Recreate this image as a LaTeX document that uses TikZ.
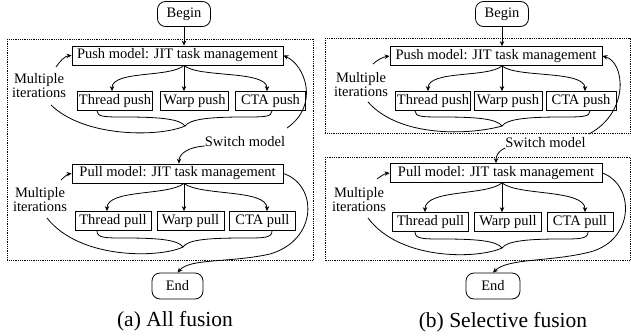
\documentclass[tikz,border=0pt]{standalone}
\usepackage{fontspec}
\setmainfont{Liberation Serif}
\usetikzlibrary{arrows.meta,calc}
\begin{document}
\begin{tikzpicture}[x=1pt,y=-1pt,
  every node/.style={font=\fontsize{14.5}{14}\selectfont},
  box/.style={draw,line width=0.8pt,minimum height=19pt,inner xsep=1.5pt,inner ysep=0pt},
  term/.style={draw,line width=0.8pt,rounded corners=8pt,inner sep=0pt},
  lbl/.style={align=center,inner sep=0pt},
  captext/.style={font=\fontsize{21.5}{24}\selectfont,inner sep=0pt},
  frame/.style={line width=0.7pt,dash pattern=on 0.7pt off 1.1pt},
  arr/.style={line width=0.8pt,-{Stealth[length=5pt,width=4.5pt]}},
  ln/.style={line width=0.8pt}]
\useasboundingbox (0,0) rectangle (631,335);

% ---------------- (a) All fusion ----------------
\draw[frame] (7,39) rectangle (313,260);
\node[term,minimum width=53pt,minimum height=25pt] (begin1) at (184,14) {Begin};
\node[box,minimum width=211pt] (push1) at (177.5,55.5) {Push model: JIT task management};
\node[box,minimum width=75pt] (tp1) at (115,101) {Thread push};
\node[box,minimum width=68pt] (wp1) at (194.5,101) {Warp push};
\node[box,minimum width=70pt] (cp1) at (270.5,101) {CTA push};
\node[lbl] (ml1) at (39,86) {Multiple\\iterations};
\node[lbl] (sw1) at (245,142) {Switch model};
\node[box,minimum width=211pt] (pull1) at (177.5,173.5) {Pull model: JIT task management};
\node[box,minimum width=76pt] (tl1) at (113,221) {Thread pull};
\node[box,minimum width=67pt] (wl1) at (190.5,221) {Warp pull};
\node[box,minimum width=66pt] (cl1) at (262.5,221) {CTA pull};
\node[lbl] (ml2) at (40,199.5) {Multiple\\iterations};
\node[term,minimum width=51pt,minimum height=26pt] (end1) at (177.5,286) {End};
\node[captext] (cap1) at (175,321) {(a) All fusion};

\coordinate (s1) at (begin1.south |- push1.south);
\coordinate (s2) at (begin1.south |- pull1.south);
\coordinate (bt1) at (185,126);
\coordinate (bt2) at (183,247);
\coordinate (ia1) at (56,67);
\coordinate (ia2) at (61,180);
\coordinate (le1) at (51,105);
\coordinate (le2) at (47,218);
\coordinate (rs1) at (287,128);

\draw[arr] (begin1.south) -- (begin1.south |- push1.north);
\draw[arr] (s1) .. controls (170,78) and (112,70) .. ([xshift=-3pt]tp1.north);
\draw[arr] (s1) -- (s1 |- wp1.north);
\draw[arr] (s1) .. controls (198,78) and (267,70) .. ([xshift=-3.5pt]cp1.north);
\draw[ln] ([xshift=-18pt]tp1.south) .. controls (97,117) and (105,117) .. (125,117) .. controls (160,117) and (180,119) .. (bt1);
\draw[ln] ([xshift=1.5pt]cp1.south) .. controls (272,117) and (264,117) .. (244,117) .. controls (210,117) and (190,119) .. (bt1);
\draw[ln] (bt1) .. controls (160,137) and (85,138) .. (le1);
\draw[arr] (ia1) .. controls (60,61) and (65,56) .. (push1.west);
\draw[arr] (rs1) .. controls (320,105) and (305,65) .. (push1.east);
\draw[arr] ([yshift=-4pt]sw1.west) .. controls (188,147) and (179,154) .. ([xshift=1.5pt]pull1.north);

\draw[arr] (s2) .. controls (168,196) and (107,189) .. ([xshift=-6pt]tl1.north);
\draw[arr] (s2) -- (s2 |- wl1.north);
\draw[arr] (s2) .. controls (200,196) and (267,189) .. ([xshift=4.5pt]cl1.north);
\draw[ln] ([xshift=-16pt]tl1.south) .. controls (97,238) and (105,238) .. (125,238) .. controls (160,238) and (178,240) .. (bt2);
\draw[ln] ([xshift=9.5pt]cl1.south) .. controls (272,238) and (264,238) .. (244,238) .. controls (205,238) and (188,240) .. (bt2);
\draw[ln] (bt2) .. controls (160,258) and (80,260) .. (le2);
\draw[arr] (ia2) .. controls (64,177) and (68,174) .. (pull1.west);
\draw[arr] (pull1.east) .. controls (318,185) and (318,240) .. (270,254) .. controls (230,263) and (190,258) .. (end1.north);

% ---------------- (b) Selective fusion ----------------
\draw[frame] (325,38) rectangle (630,133);
\draw[frame] (325,157) rectangle (630,260);
\node[term,minimum width=53pt,minimum height=25pt] (begin2) at (502,14) {Begin};
\node[box,minimum width=212pt] (push2) at (496,56) {Push model: JIT task management};
\node[box,minimum width=75pt] (tp2) at (433,101) {Thread push};
\node[box,minimum width=68pt] (wp2) at (508,101) {Warp push};
\node[box,minimum width=70pt] (cp2) at (581,101) {CTA push};
\node[lbl] (ml3) at (361,84.5) {Multiple\\iterations};
\node[lbl] (sw2) at (545.5,143) {Switch model};
\node[box,minimum width=212pt] (pull2) at (496,173) {Pull model: JIT task management};
\node[box,minimum width=76pt] (tl2) at (430.5,222) {Thread pull};
\node[box,minimum width=67pt] (wl2) at (508,222) {Warp pull};
\node[box,minimum width=66pt] (cl2) at (580,222) {CTA pull};
\node[lbl] (ml4) at (359,199.5) {Multiple\\iterations};
\node[term,minimum width=54pt,minimum height=26pt] (end2) at (493,286) {End};
\node[captext] (cap2) at (503,322) {(b) Selective fusion};

\coordinate (s3) at (begin2.south |- push2.south);
\coordinate (s4) at (begin2.south |- pull2.south);
\coordinate (bt3) at (502,126);
\coordinate (bt4) at (502,248);
\coordinate (ia3) at (373,64);
\coordinate (ia4) at (377,179);
\coordinate (le3) at (368,102);
\coordinate (le4) at (368,218);
\coordinate (rs3) at (589,134);

\draw[arr] (begin2.south) -- (begin2.south |- push2.north);
\draw[arr] (s3) .. controls (488,78) and (428,70) .. ([xshift=-5pt]tp2.north);
\draw[arr] (s3) -- (s3 |- wp2.north);
\draw[arr] (s3) .. controls (516,78) and (585,70) .. ([xshift=4pt]cp2.north);
\draw[ln] ([xshift=-18pt]tp2.south) .. controls (415,117) and (423,117) .. (443,117) .. controls (478,117) and (497,119) .. (bt3);
\draw[ln] ([xshift=9pt]cp2.south) .. controls (590,117) and (582,117) .. (562,117) .. controls (527,117) and (507,119) .. (bt3);
\draw[ln] (bt3) .. controls (470,135) and (400,138) .. (le3);
\draw[arr] (ia3) .. controls (377,60) and (383,57) .. (push2.west);
\draw[arr] (rs3) .. controls (630,112) and (625,62) .. (push2.east);
\draw[arr] ([yshift=-5pt]sw2.west) .. controls (498,151) and (496,156) .. (pull2.north);

\draw[arr] (s4) .. controls (486,196) and (425,189) .. ([xshift=-5.5pt]tl2.north);
\draw[arr] (s4) -- (s4 |- wl2.north);
\draw[arr] (s4) .. controls (518,196) and (585,189) .. ([xshift=5pt]cl2.north);
\draw[ln] ([xshift=-15.5pt]tl2.south) .. controls (415,239) and (423,239) .. (443,239) .. controls (478,239) and (497,241) .. (bt4);
\draw[ln] ([xshift=8pt]cl2.south) .. controls (588,239) and (580,239) .. (560,239) .. controls (527,239) and (507,241) .. (bt4);
\draw[ln] (bt4) .. controls (478,259) and (400,261) .. (le4);
\draw[arr] (ia4) .. controls (381,176) and (385,173.5) .. (pull2.west);
\draw[arr] (pull2.east) .. controls (635,185) and (635,240) .. (590,252) .. controls (550,262) and (508,258) .. (end2.north);
\end{tikzpicture}
\end{document}
